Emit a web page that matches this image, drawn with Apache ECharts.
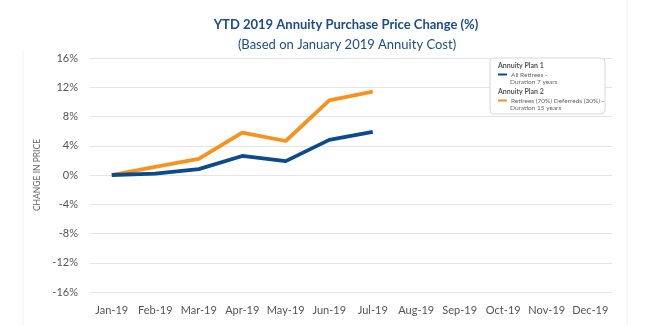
<!DOCTYPE html>
<html><head><meta charset="utf-8">
<script src="https://cdn.jsdelivr.net/npm/echarts@6/dist/echarts.min.js"></script>
<style>html,body{margin:0;padding:0;background:#fff}#c{width:650px;height:325px}</style>
</head><body><div id="c"></div>
<script>
const months = ['Jan-19','Feb-19','Mar-19','Apr-19','May-19','Jun-19','Jul-19','Aug-19','Sep-19','Oct-19','Nov-19','Dec-19'];
const plan1 = [0, 0.2, 0.8, 2.6, 1.9, 4.8, 5.9];
const plan2 = [0, 1.1, 2.2, 5.8, 4.65, 10.2, 11.4];
const yTicks = [-16,-12,-8,-4,0,4,8,12,16];
const name1 = 'All Retirees -';
const name2 = 'Retirees (70%) Deferreds (30%) -';
const sub1 = 'Duration 7 years';
const sub2 = 'Duration 15 years';
const blue = '#0b4a8b', orange = '#f7921e';
const F = 'Lato, "Open Sans", sans-serif';

const chart = echarts.init(document.getElementById('c'));
chart.setOption({
  animation: false,
  textStyle: {fontFamily: F},
  title: [
    {text: 'YTD 2019 Annuity Purchase Price Change (%)', left: 341, top: 13, textAlign: 'center',
     textStyle: {fontFamily: F, fontSize: 13, fontWeight: 'bold', color: '#1b4d8c'}},
    {text: '(Based on January 2019 Annuity Cost)', left: 342, top: 33, textAlign: 'center',
     textStyle: {fontFamily: F, fontSize: 13, fontWeight: 'normal', color: '#1b4d8c'}}
  ],
  grid: {left: 90, right: 38, top: 58, bottom: 33},
  xAxis: {
    type: 'category', data: months, boundaryGap: true,
    axisLine: {show: false}, axisTick: {show: false},
    axisLabel: {color: '#555', fontSize: 11, margin: 13, interval: 0}
  },
  yAxis: {
    type: 'value', min: yTicks[0], max: yTicks[yTicks.length-1], interval: 4,
    name: 'CHANGE IN PRICE', nameLocation: 'middle', nameGap: 36, nameRotate: 90,
    nameTextStyle: {color: '#666', fontSize: 8.5},
    axisLine: {show: false}, axisTick: {show: false},
    axisLabel: {color: '#555', fontSize: 11, margin: 12, formatter: v => v + '%'},
    splitLine: {lineStyle: {color: '#e4e4e4', width: 1}}
  },
  legend: [
    {data: [name1], left: 498, top: 71, itemWidth: 9, itemHeight: 2, icon: 'rect', itemGap: 4,
     textStyle: {fontSize: 6.5, color: '#666', padding: [0,0,0,-1]}, padding: 0, z: 20},
    {data: [name2], left: 498, top: 97, itemWidth: 9, itemHeight: 2, icon: 'rect', itemGap: 4,
     textStyle: {fontSize: 6.5, color: '#666', padding: [0,0,0,-1]}, padding: 0, z: 20}
  ],
  graphic: [
    {type: 'line', shape: {x1: 23, y1: 50, x2: 23, y2: 325}, style: {stroke: '#f3f3f3', lineWidth: 1}, silent: true},
    {type: 'line', shape: {x1: 627, y1: 0, x2: 627, y2: 325}, style: {stroke: '#f3f3f3', lineWidth: 1}, silent: true},
    {type: 'rect', shape: {x: 490, y: 58, width: 115, height: 56, r: 4}, z: 10,
     style: {fill: '#fff', stroke: '#d8d8d8', lineWidth: 1}},
    {type: 'text', x: 498, y: 62, z: 11,
     style: {text: 'Annuity Plan 1', fontSize: 7, fontWeight: 'bold', fill: '#555', fontFamily: F}},
    {type: 'text', x: 510, y: 78, z: 11,
     style: {text: sub1, fontSize: 6.5, fill: '#666', fontFamily: F}},
    {type: 'text', x: 498, y: 88, z: 11,
     style: {text: 'Annuity Plan 2', fontSize: 7, fontWeight: 'bold', fill: '#555', fontFamily: F}},
    {type: 'text', x: 510, y: 104, z: 11,
     style: {text: sub2, fontSize: 6.5, fill: '#666', fontFamily: F}}
  ],
  series: [
    {name: name1, type: 'line', data: plan1, showSymbol: false, symbol: 'none',
     lineStyle: {color: blue, width: 3.8}, itemStyle: {color: blue}, z: 3},
    {name: name2, type: 'line', data: plan2, showSymbol: false, symbol: 'none',
     lineStyle: {color: orange, width: 3.8}, itemStyle: {color: orange}, z: 2}
  ]
});
</script></body></html>
